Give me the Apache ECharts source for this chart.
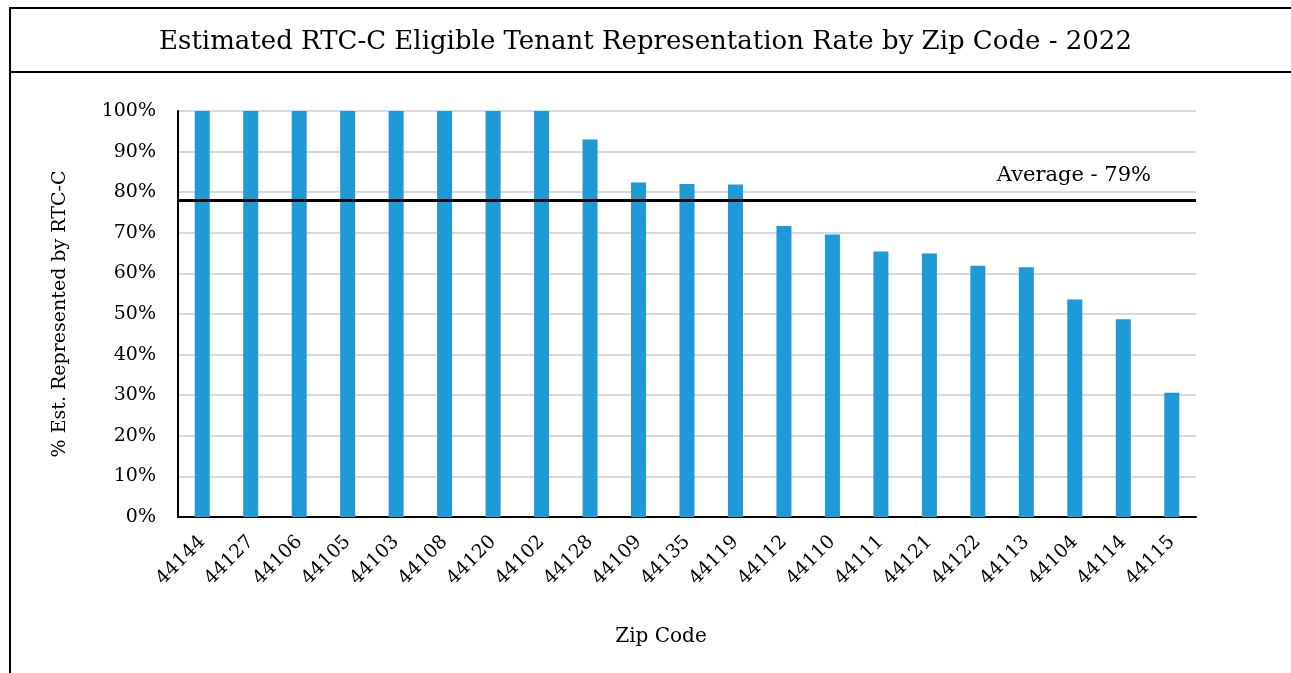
<!DOCTYPE html>
<html lang="en">
<head>
  <meta charset="UTF-8">
  <title>RTC-C representation by zip code</title>
  <style>
    html, body { margin: 0; padding: 0; background: #fff; }
  </style>
</head>
<body>
  <div id="main" style="width:1291px;height:673px;"></div>
  <script src="https://cdn.jsdelivr.net/npm/echarts@6/dist/echarts.min.js"></script>
  <script>
  var zipCodes = ['44144', '44127', '44106', '44105', '44103', '44108', '44120', '44102', '44128', '44109', '44135',
    '44119', '44112', '44110', '44111', '44121', '44122', '44113', '44104', '44114', '44115']
  var rates = [100, 100, 100, 100, 100, 100, 100, 100, 93, 82.4, 82, 81.9, 71.7, 69.6, 65.4, 64.9, 61.9, 61.5, 53.6, 48.7, 30.6]
  var averageLine = 78
  var averageLabel = 'Average - 79%'
  var yTicks = [0, 10, 20, 30, 40, 50, 60, 70, 80, 90, 100]

  var font = 'DejaVu Serif'
  var myChart = echarts.init(document.getElementById('main'))
  var option = {
    backgroundColor: '#fff',
    animation: false,
    title: {
      text: 'Estimated RTC-C Eligible Tenant Representation Rate by Zip Code - 2022',
      left: 'center',
      top: 24,
      textStyle: { fontFamily: font, fontSize: 26, fontWeight: 'normal', color: '#000' }
    },
    graphic: [
      { type: 'rect', shape: { x: 10, y: 8, width: 1300, height: 700 }, style: { fill: 'none', stroke: '#000', lineWidth: 2 } },
      { type: 'line', shape: { x1: 10, y1: 72, x2: 1291, y2: 72 }, style: { stroke: '#000', lineWidth: 2 } }
    ],
    grid: { left: 178, right: 95, top: 111, bottom: 156 },
    xAxis: {
      type: 'category',
      data: zipCodes,
      name: 'Zip Code',
      nameLocation: 'middle',
      nameGap: 110,
      nameTextStyle: { fontFamily: font, fontSize: 20, color: '#000', padding: [0, 52, 0, 0] },
      axisLine: { lineStyle: { color: '#000', width: 2 } },
      axisTick: { show: false },
      axisLabel: { rotate: 45, fontFamily: font, fontSize: 19, color: '#000', margin: 22 }
    },
    yAxis: {
      type: 'value',
      min: 0,
      max: 100,
      interval: 10,
      name: '% Est. Represented by RTC-C',
      nameLocation: 'middle',
      nameGap: 108,
      nameTextStyle: { fontFamily: font, fontSize: 19, color: '#000' },
      axisLine: { show: true, lineStyle: { color: '#000', width: 2 } },
      splitLine: { lineStyle: { color: '#d9d9d9', width: 2 } },
      axisLabel: {
        fontFamily: font, fontSize: 19, color: '#000', margin: 22,
        formatter: function (v) { return yTicks.indexOf(v) >= 0 ? v + '%' : '' }
      }
    },
    series: [{
      type: 'bar',
      data: rates,
      barWidth: 15,
      itemStyle: { color: '#1e9ad6' },
      markLine: {
        symbol: 'none',
        silent: true,
        data: [{ yAxis: averageLine }],
        lineStyle: { color: '#000', width: 3, type: 'solid' },
        label: {
          formatter: averageLabel,
          position: 'insideEndTop',
          fontFamily: font, fontSize: 21, color: '#000',
          distance: [45, 14]
        }
      }
    }]
  }
  myChart.setOption(option)
  </script>
</body>
</html>
